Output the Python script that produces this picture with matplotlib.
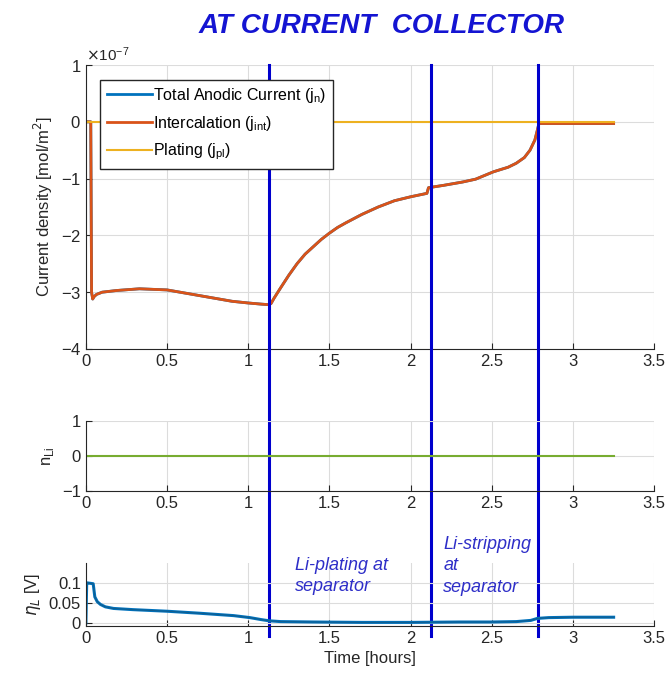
import numpy as np
import matplotlib
matplotlib.use('Agg')
import matplotlib.pyplot as plt
import matplotlib.transforms as mtransforms

plt.rcParams['font.family'] = ['Liberation Sans', 'DejaVu Sans']

# time axis [hours] and intercalation current density (in units of 1e-7 mol/m^2)
t_int = [0, 0.03, 0.035, 0.042, 0.05, 0.065, 0.1, 0.19, 0.33, 0.5, 0.7, 0.9, 1.0, 1.08,
         1.128, 1.14, 1.16, 1.2, 1.25, 1.3, 1.35, 1.4, 1.45, 1.5, 1.55, 1.6, 1.7, 1.8, 1.9,
         2.0, 2.1, 2.11, 2.2, 2.32, 2.4, 2.51, 2.6, 2.65, 2.7, 2.735, 2.765, 2.78, 2.79,
         2.85, 3.0, 3.25]
j_int = [0, 0, -3.0, -3.12, -3.08, -3.04, -3.0, -2.97, -2.94, -2.96, -3.06, -3.16, -3.19, -3.21,
         -3.22, -3.2, -3.1, -2.92, -2.7, -2.5, -2.33, -2.2, -2.07, -1.96, -1.86, -1.78, -1.63,
         -1.50, -1.39, -1.32, -1.26, -1.16, -1.12, -1.06, -1.01, -0.88, -0.80, -0.73, -0.63,
         -0.50, -0.32, -0.15, -0.03, -0.03, -0.03, -0.03]
scale = 1e-7

t_pl = [0, 3.25]
j_pl = [0, 0]

t_nli = [0, 3.25]
n_li = [0, 0]

t_eta = [0, 0.005, 0.01, 0.045, 0.055, 0.07, 0.09, 0.12, 0.17, 0.29, 0.5, 0.7, 0.91, 1.01,
         1.08, 1.128, 1.2, 1.4, 1.7, 2.0, 2.3, 2.5, 2.65, 2.74, 2.78, 2.85, 3.0, 3.25]
eta_l = [0, 0.1, 0.1, 0.098, 0.065, 0.053, 0.046, 0.04, 0.036, 0.033, 0.029, 0.024, 0.018, 0.013,
         0.008, 0.005, 0.003, 0.002, 0.001, 0.001, 0.002, 0.002, 0.003, 0.006, 0.011, 0.013, 0.014, 0.014]

markers_t = [1.128, 2.126, 2.785]

c_blue = '#0072BD'
c_orange = '#D95319'
c_yellow = '#EDB120'
c_green = '#77AC30'
c_vline = '#0000CD'
c_note = '#2E2EC8'
tick_col = '#262626'

fig = plt.figure(figsize=(6.71, 6.93), dpi=100)
ax1 = fig.add_axes([0.128, 0.4964, 0.847, 0.4098])
ax2 = fig.add_axes([0.128, 0.2919, 0.847, 0.1006])
ax3 = fig.add_axes([0.128, 0.0967, 0.847, 0.0909])

for ax in (ax1, ax2, ax3):
    ax.set_facecolor('none')
    ax.spines['top'].set_visible(False)
    ax.spines['right'].set_visible(False)
    ax.spines['left'].set_color('#262626')
    ax.spines['bottom'].set_color('#262626')
    ax.grid(True, color='#dcdcdc', linewidth=0.8)
    ax.set_axisbelow(True)
    ax.tick_params(direction='in', labelsize=12, colors=tick_col, length=4)
    ax.set_xlim(0, 3.5)
    ax.set_xticks([0, 0.5, 1, 1.5, 2, 2.5, 3, 3.5])
    ax.set_xticklabels(['0', '0.5', '1', '1.5', '2', '2.5', '3', '3.5'])

# top panel
j_int_abs = np.array(j_int) * scale
ax1.plot(t_int, j_int_abs, color=c_blue, lw=2, label='Total Anodic Current (j$_{\\mathregular{n}}$)')
ax1.plot(t_int, j_int_abs, color=c_orange, lw=2, label='Intercalation (j$_{\\mathregular{int}}$)')
ax1.plot(t_pl, np.array(j_pl) * scale, color=c_yellow, lw=1.5, label='Plating (j$_{\\mathregular{pl}}$)')
ax1.set_ylim(-4e-7, 1e-7)
ax1.set_yticks(np.array([-4, -3, -2, -1, 0, 1]) * scale)
ax1.ticklabel_format(axis='y', style='sci', scilimits=(-7, -7), useMathText=True)
ax1.yaxis.get_offset_text().set_fontsize(11)
ax1.yaxis.get_offset_text().set_color(tick_col)
ax1.set_ylabel('Current density [mol/m$^2$]', fontsize=12, color=tick_col)
leg = ax1.legend(loc='upper left', bbox_to_anchor=(0.02, 0.96), fontsize=11.5, frameon=True,
                 fancybox=False, edgecolor='#262626', framealpha=1, handlelength=2.8,
                 handletextpad=0.1, borderaxespad=0.2, labelspacing=0.55)
leg.get_frame().set_linewidth(1.0)

# vertical markers spanning all panels
for tm in markers_t:
    ax1.axvline(tm, ymin=-1.01, ymax=1.0, color=c_vline, lw=2.2, clip_on=False, zorder=3)

# middle panel
ax2.plot(t_nli, n_li, color=c_green, lw=1.5)
ax2.set_ylim(-1, 1)
ax2.set_yticks([-1, 0, 1])
ax2.set_ylabel('n$_{\\mathregular{Li}}$', fontsize=12, color=tick_col)

# bottom panel
ax3.plot(t_eta, eta_l, color=c_blue, lw=2.2)
ax3.plot(t_eta, eta_l, color='#1d4f6e', lw=0.8, alpha=0.6)
ax3.set_ylim(-0.008, 0.15)
ax3.set_yticks([0, 0.05, 0.1])
ax3.set_yticklabels(['0', '0.05', '0.1'])
ax3.set_ylabel('$\\eta_L$ [V]', fontsize=12, color=tick_col)
ax3.set_xlabel('Time [hours]', fontsize=12, color=tick_col)

trans = mtransforms.blended_transform_factory(ax3.transData, ax3.transAxes)
ax3.text(1.29, 1.10, 'Li-plating at\nseparator', transform=trans, va='top', ha='left',
         fontsize=13, style='italic', color=c_note, linespacing=1.35, clip_on=False)
ax3.text(2.2, 1.43, 'Li-stripping\nat\nseparator', transform=trans, va='top', ha='left',
         fontsize=13, style='italic', color=c_note, linespacing=1.35, clip_on=False)

fig.text(0.568, 0.963, 'AT CURRENT  COLLECTOR', ha='center', va='center', fontsize=20,
         weight='bold', style='italic', color='#1414D2')

fig.savefig('out.png', dpi=100)
